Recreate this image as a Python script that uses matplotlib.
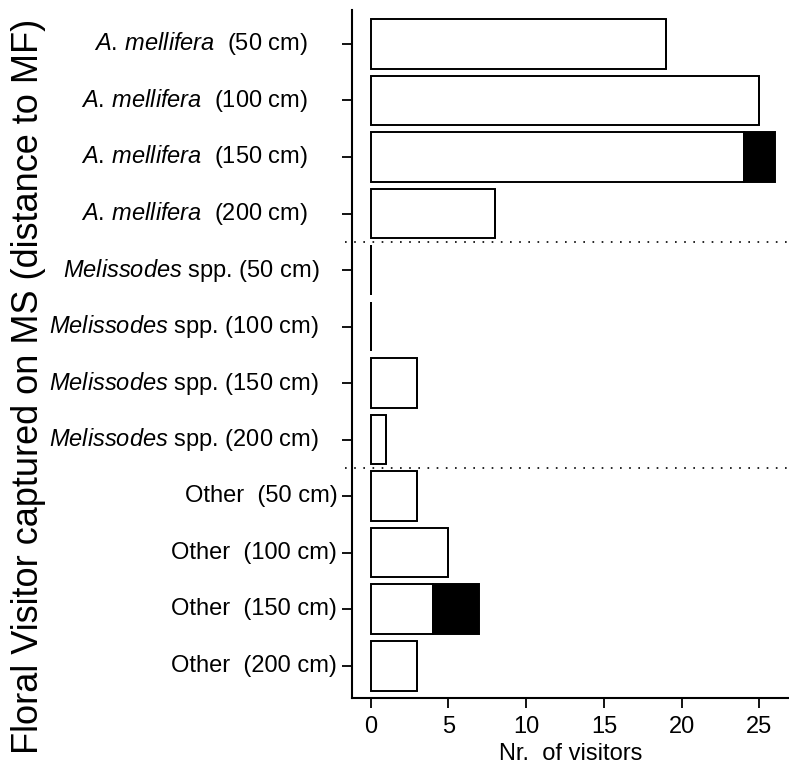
import matplotlib
matplotlib.use("Agg")
from matplotlib import pyplot as plt

plt.rcParams['font.family'] = ['Liberation Sans', 'DejaVu Sans']
plt.rcParams['mathtext.fontset'] = 'custom'
plt.rcParams['mathtext.rm'] = 'Liberation Sans'
plt.rcParams['mathtext.it'] = 'Liberation Sans:italic'

# data (top to bottom)
groups = ['A. mellifera', 'Melissodes', 'Other']
distances = ['50 cm', '100 cm', '150 cm', '200 cm']
white_part = [19, 25, 24, 8, 0, 0, 3, 1, 3, 5, 4, 3]
black_part = [0, 0, 2, 0, 0, 0, 0, 0, 0, 0, 3, 0]
x_ticks = [0, 5, 10, 15, 20, 25]


def make_label(group, dist):
    if group == 'A. mellifera':
        return r'$\mathit{A.\,mellifera}$  (' + dist + ')'
    if group == 'Melissodes':
        return r'$\mathit{Melissodes}$ spp. (' + dist + ')'
    return 'Other  (' + dist + ')'


labels = []
label_group = []
for g in groups:
    for d in distances:
        labels.append(make_label(g, d))
        label_group.append(g)

# right edge offset of each group's labels (points left of the spine)
label_offset = {'A. mellifera': -31.5, 'Melissodes': -23.5, 'Other': -10.5}

fig = plt.figure(figsize=(7.89, 7.72), dpi=100)
ax = fig.add_axes([0.446, 0.096, 0.554, 0.891])

pos = list(range(len(labels)))
bh = 0.88
ax.barh(pos, white_part, height=bh, color='white', edgecolor='black', linewidth=1.4)
ax.barh(pos, black_part, left=white_part, height=bh, color='black',
        edgecolor='black', linewidth=1.4)

# group separators
ax.axhline(3.5, xmin=-0.015, xmax=1, color='black', lw=1.2,
           linestyle=(0, (1, 4.5)), clip_on=False)
ax.axhline(7.5, xmin=-0.015, xmax=1, color='black', lw=1.2,
           linestyle=(0, (1, 4.5)), clip_on=False)

ax.set_ylim(11.57, -0.6)
ax.set_xlim(-1.2, 26.9)
ax.set_yticks(pos)
ax.set_yticklabels([''] * len(pos))
for p, lab, g in zip(pos, labels, label_group):
    ax.annotate(lab, xy=(0, p), xycoords=('axes fraction', 'data'),
                xytext=(label_offset[g], 0), textcoords='offset points',
                ha='right', va='center', fontsize=17)

ax.set_xticks(x_ticks)
ax.tick_params(axis='x', labelsize=17, length=7, width=1.3, pad=6)
ax.tick_params(axis='y', length=7, width=1.3)
ax.spines['top'].set_visible(False)
ax.spines['right'].set_visible(False)
ax.spines['left'].set_linewidth(1.5)
ax.spines['bottom'].set_linewidth(1.5)

ax.set_xlabel('Nr.  of visitors', fontsize=17, labelpad=4)
fig.text(0.036, 0.5, 'Floral Visitor captured on MS (distance to MF)',
         rotation=90, ha='center', va='center', fontsize=26)

fig.savefig('out.png', dpi=100)
